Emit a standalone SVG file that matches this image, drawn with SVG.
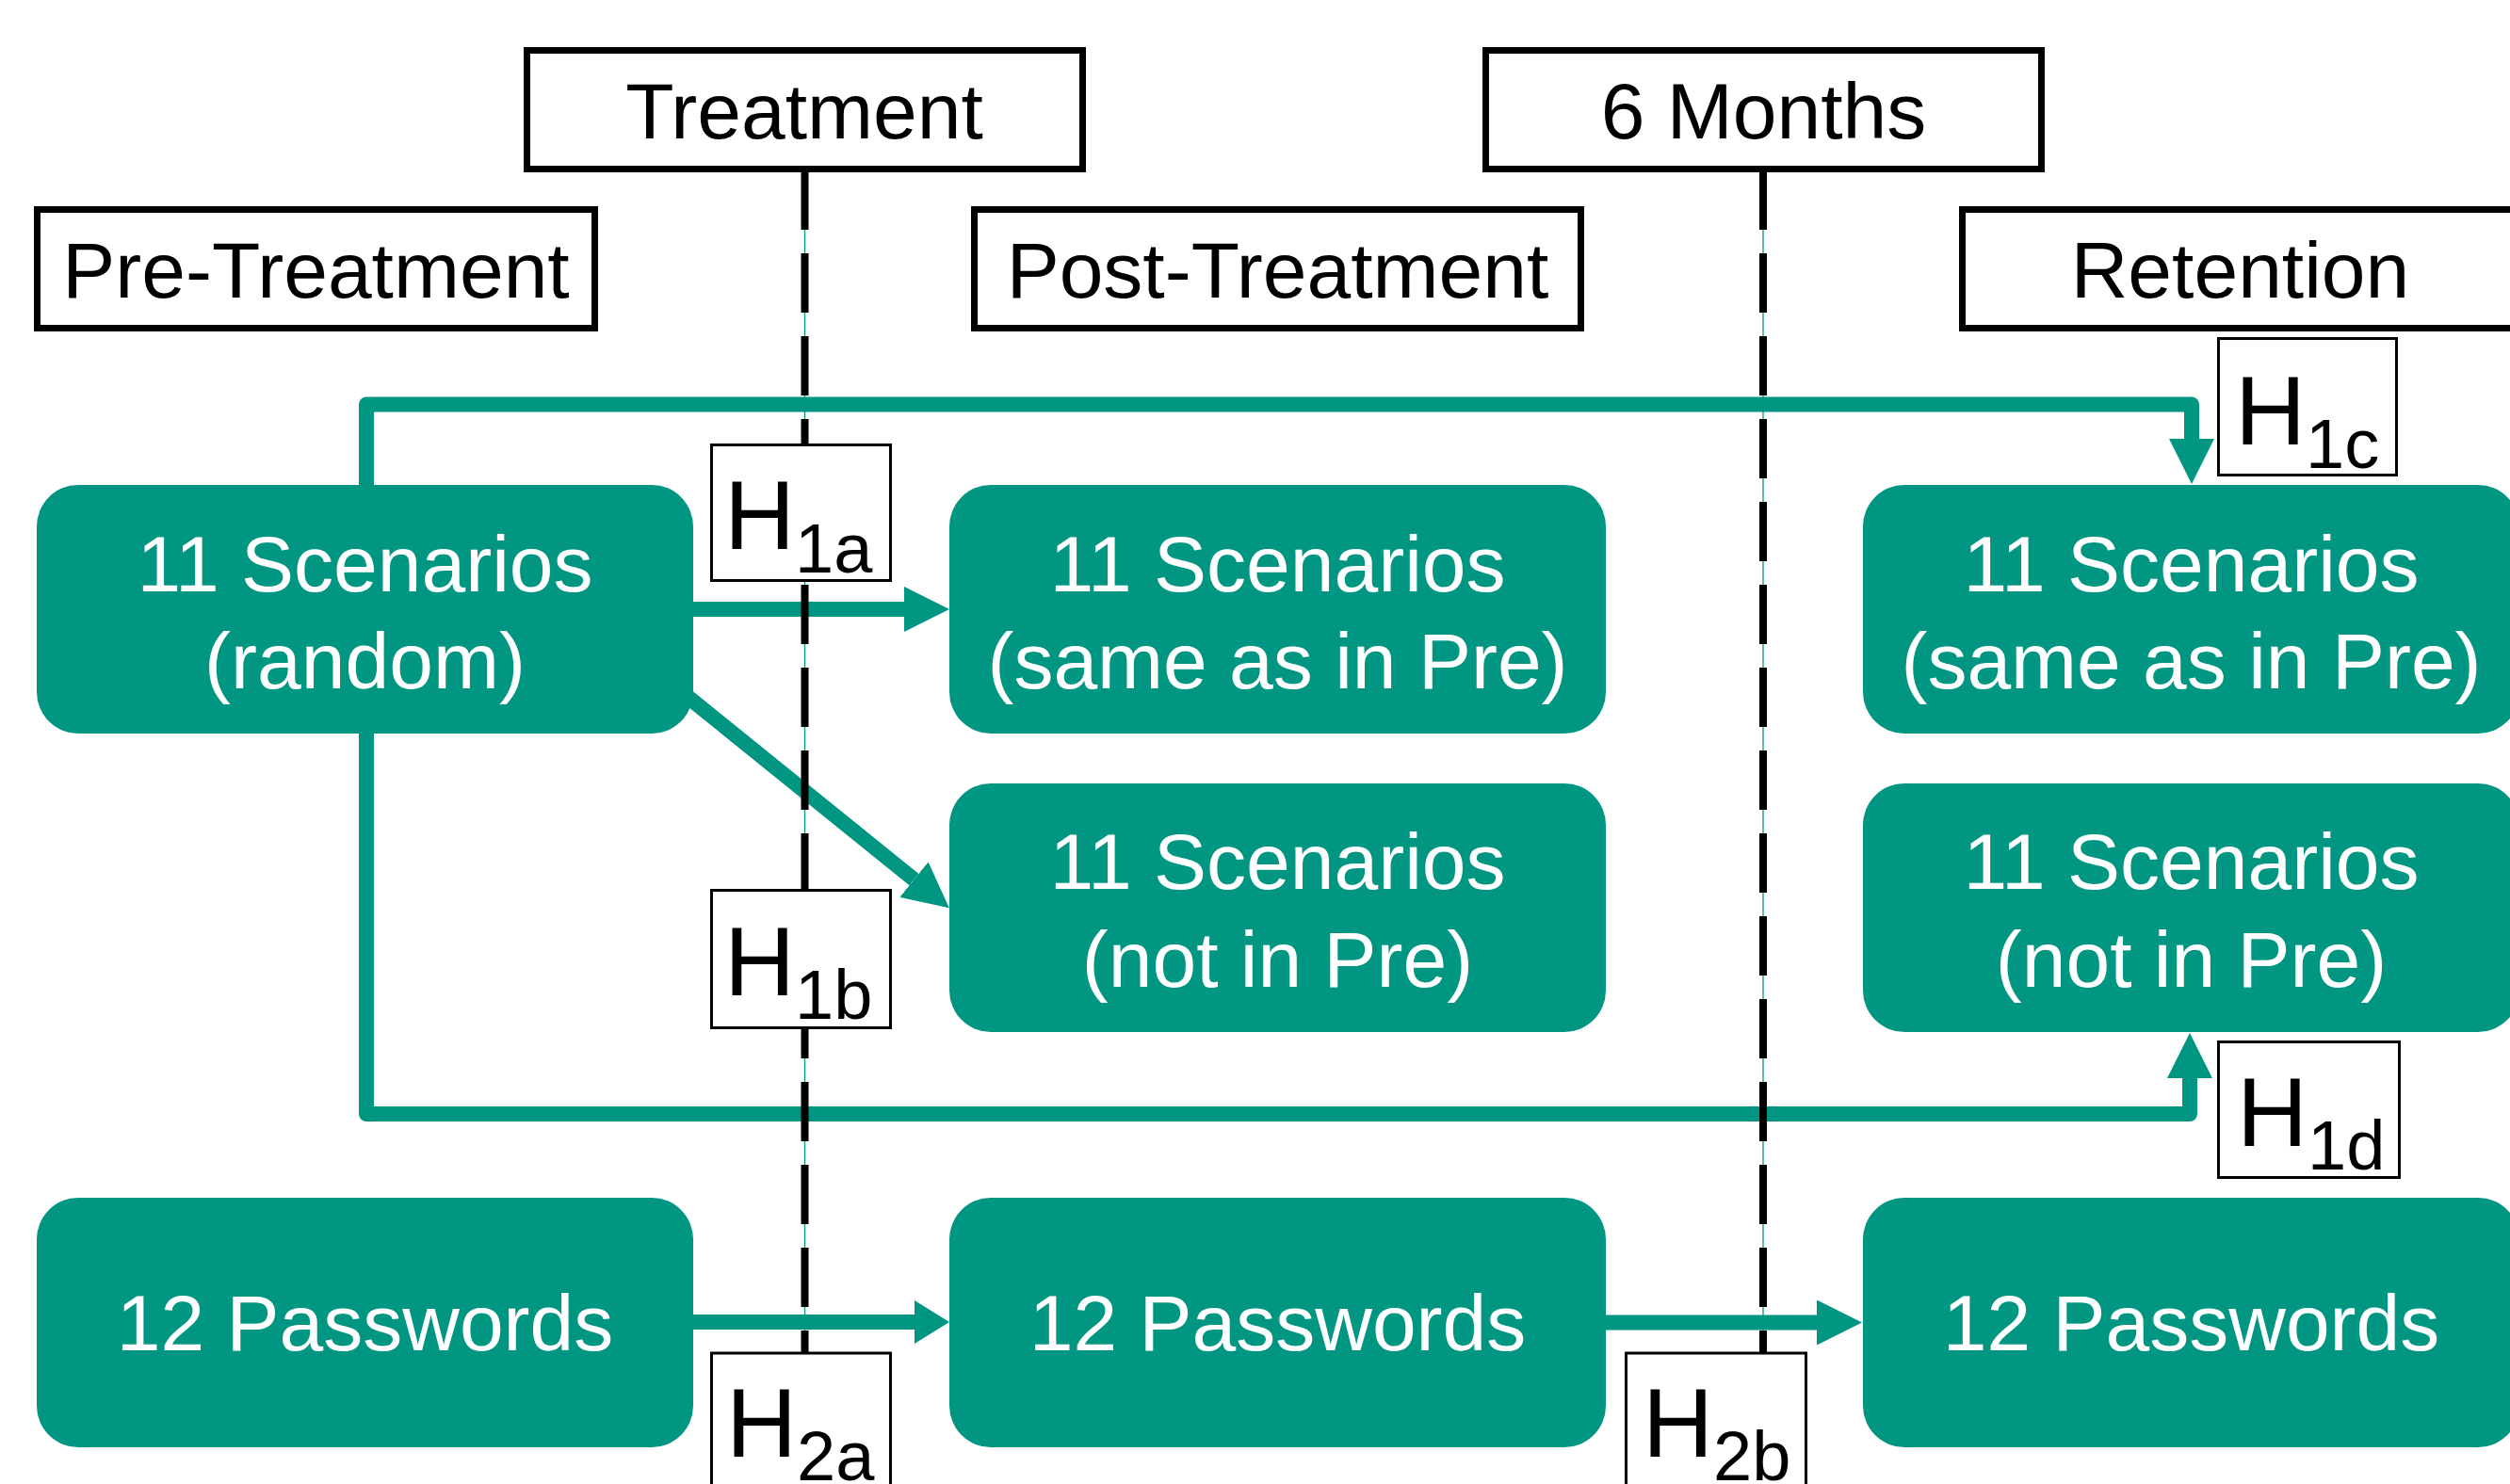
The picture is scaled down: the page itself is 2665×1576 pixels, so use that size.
<svg xmlns="http://www.w3.org/2000/svg" width="2665" height="1576" viewBox="0 0 2665 1576">
<defs>
<style>
.hdr{fill:#fff;stroke:#000;stroke-width:7}
.hdrt{font-family:"Liberation Sans",Arial,sans-serif;font-size:84px;fill:#000;text-anchor:middle}
.node{fill:#009682}
.nt{font-family:"Liberation Sans",Arial,sans-serif;font-size:84px;fill:#fff;text-anchor:middle}
.conn{fill:none;stroke:#009682;stroke-width:16;stroke-linejoin:round}
.dash{stroke:#000;stroke-width:8;stroke-dasharray:63 25}
.thin{stroke:#009682;stroke-width:1.3}
.hb{fill:#fff;stroke:#000;stroke-width:3}
.ht{font-family:"Liberation Sans",Arial,sans-serif;font-size:104px;fill:#000}
.sub{font-size:74px}
</style>
<marker id="ah" markerUnits="userSpaceOnUse" viewBox="0 0 48 48" refX="0" refY="24" markerWidth="48" markerHeight="48" orient="auto">
<path d="M0,0 L48,24 L0,48 Z" fill="#009682"/>
</marker>
<marker id="ahs" markerUnits="userSpaceOnUse" viewBox="0 0 37 46" refX="0" refY="23" markerWidth="37" markerHeight="46" orient="auto">
<path d="M0,0 L37,23 L0,46 Z" fill="#009682"/>
</marker>
</defs>
<rect width="2665" height="1576" fill="#fff"/>

<g id="headers">
<g id="hdr-treatment"><rect class="hdr" x="559.5" y="53.5" width="590" height="126"/><text class="hdrt" x="854" y="147">Treatment</text></g>
<g id="hdr-6months"><rect class="hdr" x="1577.5" y="53.5" width="590" height="126"/><text class="hdrt" x="1872.5" y="147">6 Months</text></g>
<g id="hdr-pre"><rect class="hdr" x="39.5" y="222.5" width="592" height="126"/><text class="hdrt" x="335.5" y="316">Pre-Treatment</text></g>
<g id="hdr-post"><rect class="hdr" x="1034.5" y="222.5" width="644" height="126"/><text class="hdrt" x="1356.5" y="316">Post-Treatment</text></g>
<g id="hdr-retention"><rect class="hdr" x="2083.5" y="222.5" width="590" height="126"/><text class="hdrt" x="2378.5" y="316">Retention</text></g>
</g>

<g id="connectors">
<path class="conn" d="M389,530 V429.5 H2327 V466" marker-end="url(#ah)"/>
<path class="conn" d="M389,770 V1183 H2325 V1145" marker-end="url(#ah)"/>
<path class="conn" d="M730,647 H960" marker-end="url(#ah)"/>
<path class="conn" d="M724,735 L970.5,934.1" marker-end="url(#ah)"/>
<path class="conn" d="M730,1404 H971" marker-end="url(#ahs)"/>
<path class="conn" d="M1700,1404.5 H1929" marker-end="url(#ah)"/>
</g>

<g id="nodes">
<g id="pre-scen"><rect class="node" x="39" y="515" width="697" height="264" rx="44"/><text class="nt" x="387.5" y="628">11 Scenarios</text><text class="nt" x="387.5" y="731">(random)</text></g>
<g id="post-same"><rect class="node" x="1008" y="515" width="697" height="264" rx="44"/><text class="nt" x="1356.5" y="628">11 Scenarios</text><text class="nt" x="1356.5" y="731">(same as in Pre)</text></g>
<g id="ret-same"><rect class="node" x="1978" y="515" width="697" height="264" rx="44"/><text class="nt" x="2326.5" y="628">11 Scenarios</text><text class="nt" x="2326.5" y="731">(same as in Pre)</text></g>
<g id="post-new"><rect class="node" x="1008" y="832" width="697" height="264" rx="44"/><text class="nt" x="1356.5" y="944">11 Scenarios</text><text class="nt" x="1356.5" y="1048">(not in Pre)</text></g>
<g id="ret-new"><rect class="node" x="1978" y="832" width="697" height="264" rx="44"/><text class="nt" x="2326.5" y="944">11 Scenarios</text><text class="nt" x="2326.5" y="1048">(not in Pre)</text></g>
<g id="pre-pw"><rect class="node" x="39" y="1272" width="697" height="265" rx="44"/><text class="nt" x="387.5" y="1434">12 Passwords</text></g>
<g id="post-pw"><rect class="node" x="1008" y="1272" width="697" height="265" rx="44"/><text class="nt" x="1356.5" y="1434">12 Passwords</text></g>
<g id="ret-pw"><rect class="node" x="1978" y="1272" width="697" height="265" rx="44"/><text class="nt" x="2326.5" y="1434">12 Passwords</text></g>
</g>

<g id="timelines">
<line class="thin" x1="854.5" y1="181" x2="854.5" y2="1576"/>
<line class="thin" x1="1872" y1="181" x2="1872" y2="1576"/>
<line class="dash" x1="854.5" y1="181" x2="854.5" y2="1576"/>
<line class="dash" x1="1872" y1="181" x2="1872" y2="1576"/>
</g>

<g id="labels">
<g id="h1a"><rect class="hb" x="755.5" y="472.5" width="190" height="144"/><text class="ht" x="769" y="583">H<tspan class="sub" dy="25">1a</tspan></text></g>
<g id="h1b"><rect class="hb" x="755.5" y="945.5" width="190" height="146"/><text class="ht" x="769" y="1057">H<tspan class="sub" dy="25">1b</tspan></text></g>
<g id="h2a"><rect class="hb" x="755.5" y="1437" width="190" height="146"/><text class="ht" x="771" y="1547">H<tspan class="sub" dy="25">2a</tspan></text></g>
<g id="h1c"><rect class="hb" x="2355.5" y="359.5" width="189" height="145"/><text class="ht" x="2373" y="472">H<tspan class="sub" dy="25">1c</tspan></text></g>
<g id="h1d"><rect class="hb" x="2355.5" y="1106.5" width="192" height="144"/><text class="ht" x="2375" y="1217">H<tspan class="sub" dy="25">1d</tspan></text></g>
<g id="h2b"><rect class="hb" x="1726.5" y="1437" width="191" height="146"/><text class="ht" x="1744" y="1547">H<tspan class="sub" dy="25">2b</tspan></text></g>
</g>
</svg>
